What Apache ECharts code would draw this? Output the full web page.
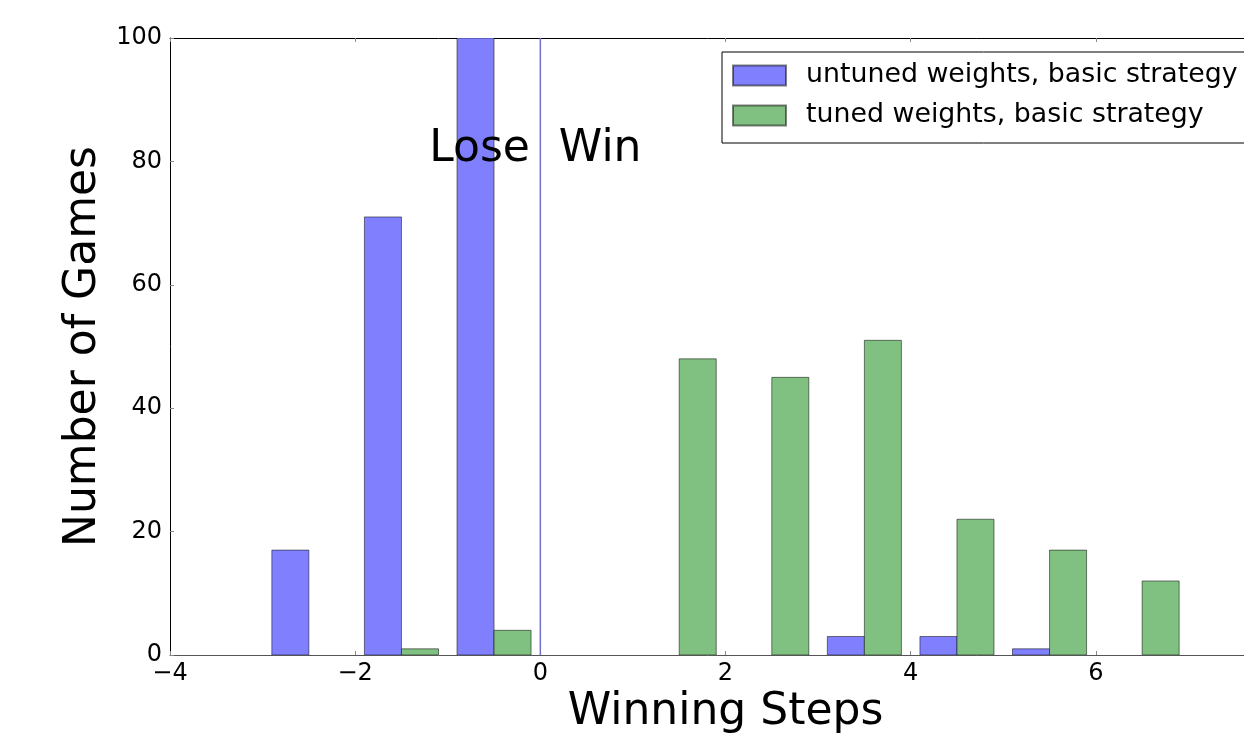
<!DOCTYPE html>
<html>
<head>
<meta charset="utf-8">
<script src="https://cdn.jsdelivr.net/npm/echarts@6/dist/echarts.min.js"></script>
<style>
  html, body { margin: 0; padding: 0; background: #fff; }
  #chart { width: 1244px; height: 734px; }
</style>
</head>
<body>
<div id="chart"></div>
<script>
// histogram bins (left edge of each 1-wide bin)
const binStarts = [-3, -2, -1, 0, 1, 2, 3, 4, 5, 6]
const untunedCounts = [17, 71, 100, 0, 0, 0, 3, 3, 1, 0]
const tunedCounts = [0, 1, 4, 0, 48, 45, 51, 22, 17, 12]
const seriesNames = ['untuned weights, basic strategy', 'tuned weights, basic strategy']
const annotations = [[-1.2, 80, 'Lose'], [0.2, 80, 'Win']]
const xTicks = { min: -4, max: 8, interval: 2 }
const yTicks = { min: 0, max: 100, interval: 20 }

const FONT = 'DejaVu Sans'
const BAR_W = 0.4

const chart = echarts.init(document.getElementById('chart'))

function histBar(offset) {
  return function (params, api) {
    const h = api.value(1)
    if (!h) return null
    const x0 = api.value(0) + offset
    const p0 = api.coord([x0, h])
    const p1 = api.coord([x0 + BAR_W, 0])
    return {
      type: 'rect',
      shape: { x: p0[0], y: p0[1], width: p1[0] - p0[0], height: p1[1] - p0[1] },
      style: {
        fill: api.visual('color'),
        stroke: 'rgba(0,0,0,0.5)',
        lineWidth: 1,
      },
    }
  }
}

const minus = v => String(v).replace('-', '\u2212')

const option = {
  animation: false,
  textStyle: { fontFamily: FONT },
  // plot area runs past the right edge of the window (x max = 8 is off-screen)
  grid: { left: 170, top: 38, bottom: 79, width: 1111, outerBoundsMode: 'none', containLabel: false },
  legend: {
    data: seriesNames,
    orient: 'vertical',
    left: 722,
    top: 52,
    padding: [10, 40, 14, 10],
    itemWidth: 53,
    itemHeight: 20,
    itemGap: 13,
    borderColor: '#000',
    borderWidth: 1,
    icon: 'rect',
    textStyle: { fontFamily: FONT, fontSize: 26.8, lineHeight: 26, color: '#000', padding: [0, 0, 0, 15] },
  },
  xAxis: [
    {
      type: 'value',
      min: xTicks.min,
      max: xTicks.max,
      interval: xTicks.interval,
      name: 'Winning Steps',
      nameLocation: 'middle',
      nameGap: 36,
      nameTextStyle: { fontFamily: FONT, fontSize: 44, color: '#000' },
      axisLine: { show: true, onZero: false, lineStyle: { color: '#555', width: 1 } },
      axisTick: { show: true, inside: true, length: 4, lineStyle: { color: '#888' } },
      axisLabel: { fontFamily: FONT, fontSize: 24, color: '#000', margin: 7, formatter: minus, showMaxLabel: false },
      splitLine: { show: false },
    },
    {
      type: 'value',
      position: 'top',
      min: xTicks.min,
      max: xTicks.max,
      interval: xTicks.interval,
      axisLine: { show: true, onZero: false, lineStyle: { color: '#000', width: 1 } },
      axisTick: { show: true, inside: true, length: 4, lineStyle: { color: '#888' } },
      axisLabel: { show: false },
      splitLine: { show: false },
    },
  ],
  yAxis: {
    type: 'value',
    min: yTicks.min,
    max: yTicks.max,
    interval: yTicks.interval,
    name: 'Number of Games',
    nameLocation: 'middle',
    nameGap: 59,
    nameTextStyle: { fontFamily: FONT, fontSize: 44, color: '#000' },
    axisLine: { show: true, onZero: false, lineStyle: { color: '#000', width: 1 } },
    axisTick: { show: true, inside: true, length: 4, lineStyle: { color: '#888' } },
    axisLabel: { fontFamily: FONT, fontSize: 24, color: '#000', margin: 8 },
    splitLine: { show: false },
  },
  series: [
    {
      name: seriesNames[0],
      type: 'custom',
      clip: true,
      itemStyle: { color: '#8080ff', borderColor: 'rgba(0,0,0,0.5)', borderWidth: 1 },
      renderItem: histBar(0.1),
      encode: { x: 0, y: 1 },
      data: binStarts.map((b, i) => [b, untunedCounts[i]]),
      z: 2,
    },
    {
      name: seriesNames[1],
      type: 'custom',
      clip: true,
      itemStyle: { color: '#80c080', borderColor: 'rgba(0,0,0,0.5)', borderWidth: 1 },
      renderItem: histBar(0.5),
      encode: { x: 0, y: 1 },
      data: binStarts.map((b, i) => [b, tunedCounts[i]]),
      z: 2,
    },
    {
      name: 'zero line',
      type: 'line',
      symbol: 'none',
      lineStyle: { color: '#7070d0', width: 1.5 },
      data: [[0, 0], [0, 100]],
      z: 3,
    },
    {
      name: 'annotations',
      type: 'custom',
      renderItem: function (params, api) {
        const p = api.coord([api.value(0), api.value(1)])
        return {
          type: 'text',
          x: p[0],
          y: p[1] + 10,
          style: {
            text: annotations[params.dataIndex][2],
            fontFamily: FONT,
            fontSize: 44,
            fill: '#000',
            align: 'left',
            verticalAlign: 'bottom',
          },
        }
      },
      encode: { x: 0, y: 1 },
      data: annotations.map(a => [a[0], a[1]]),
      z: 5,
    },
  ],
}

chart.setOption(option)
</script>
</body>
</html>
